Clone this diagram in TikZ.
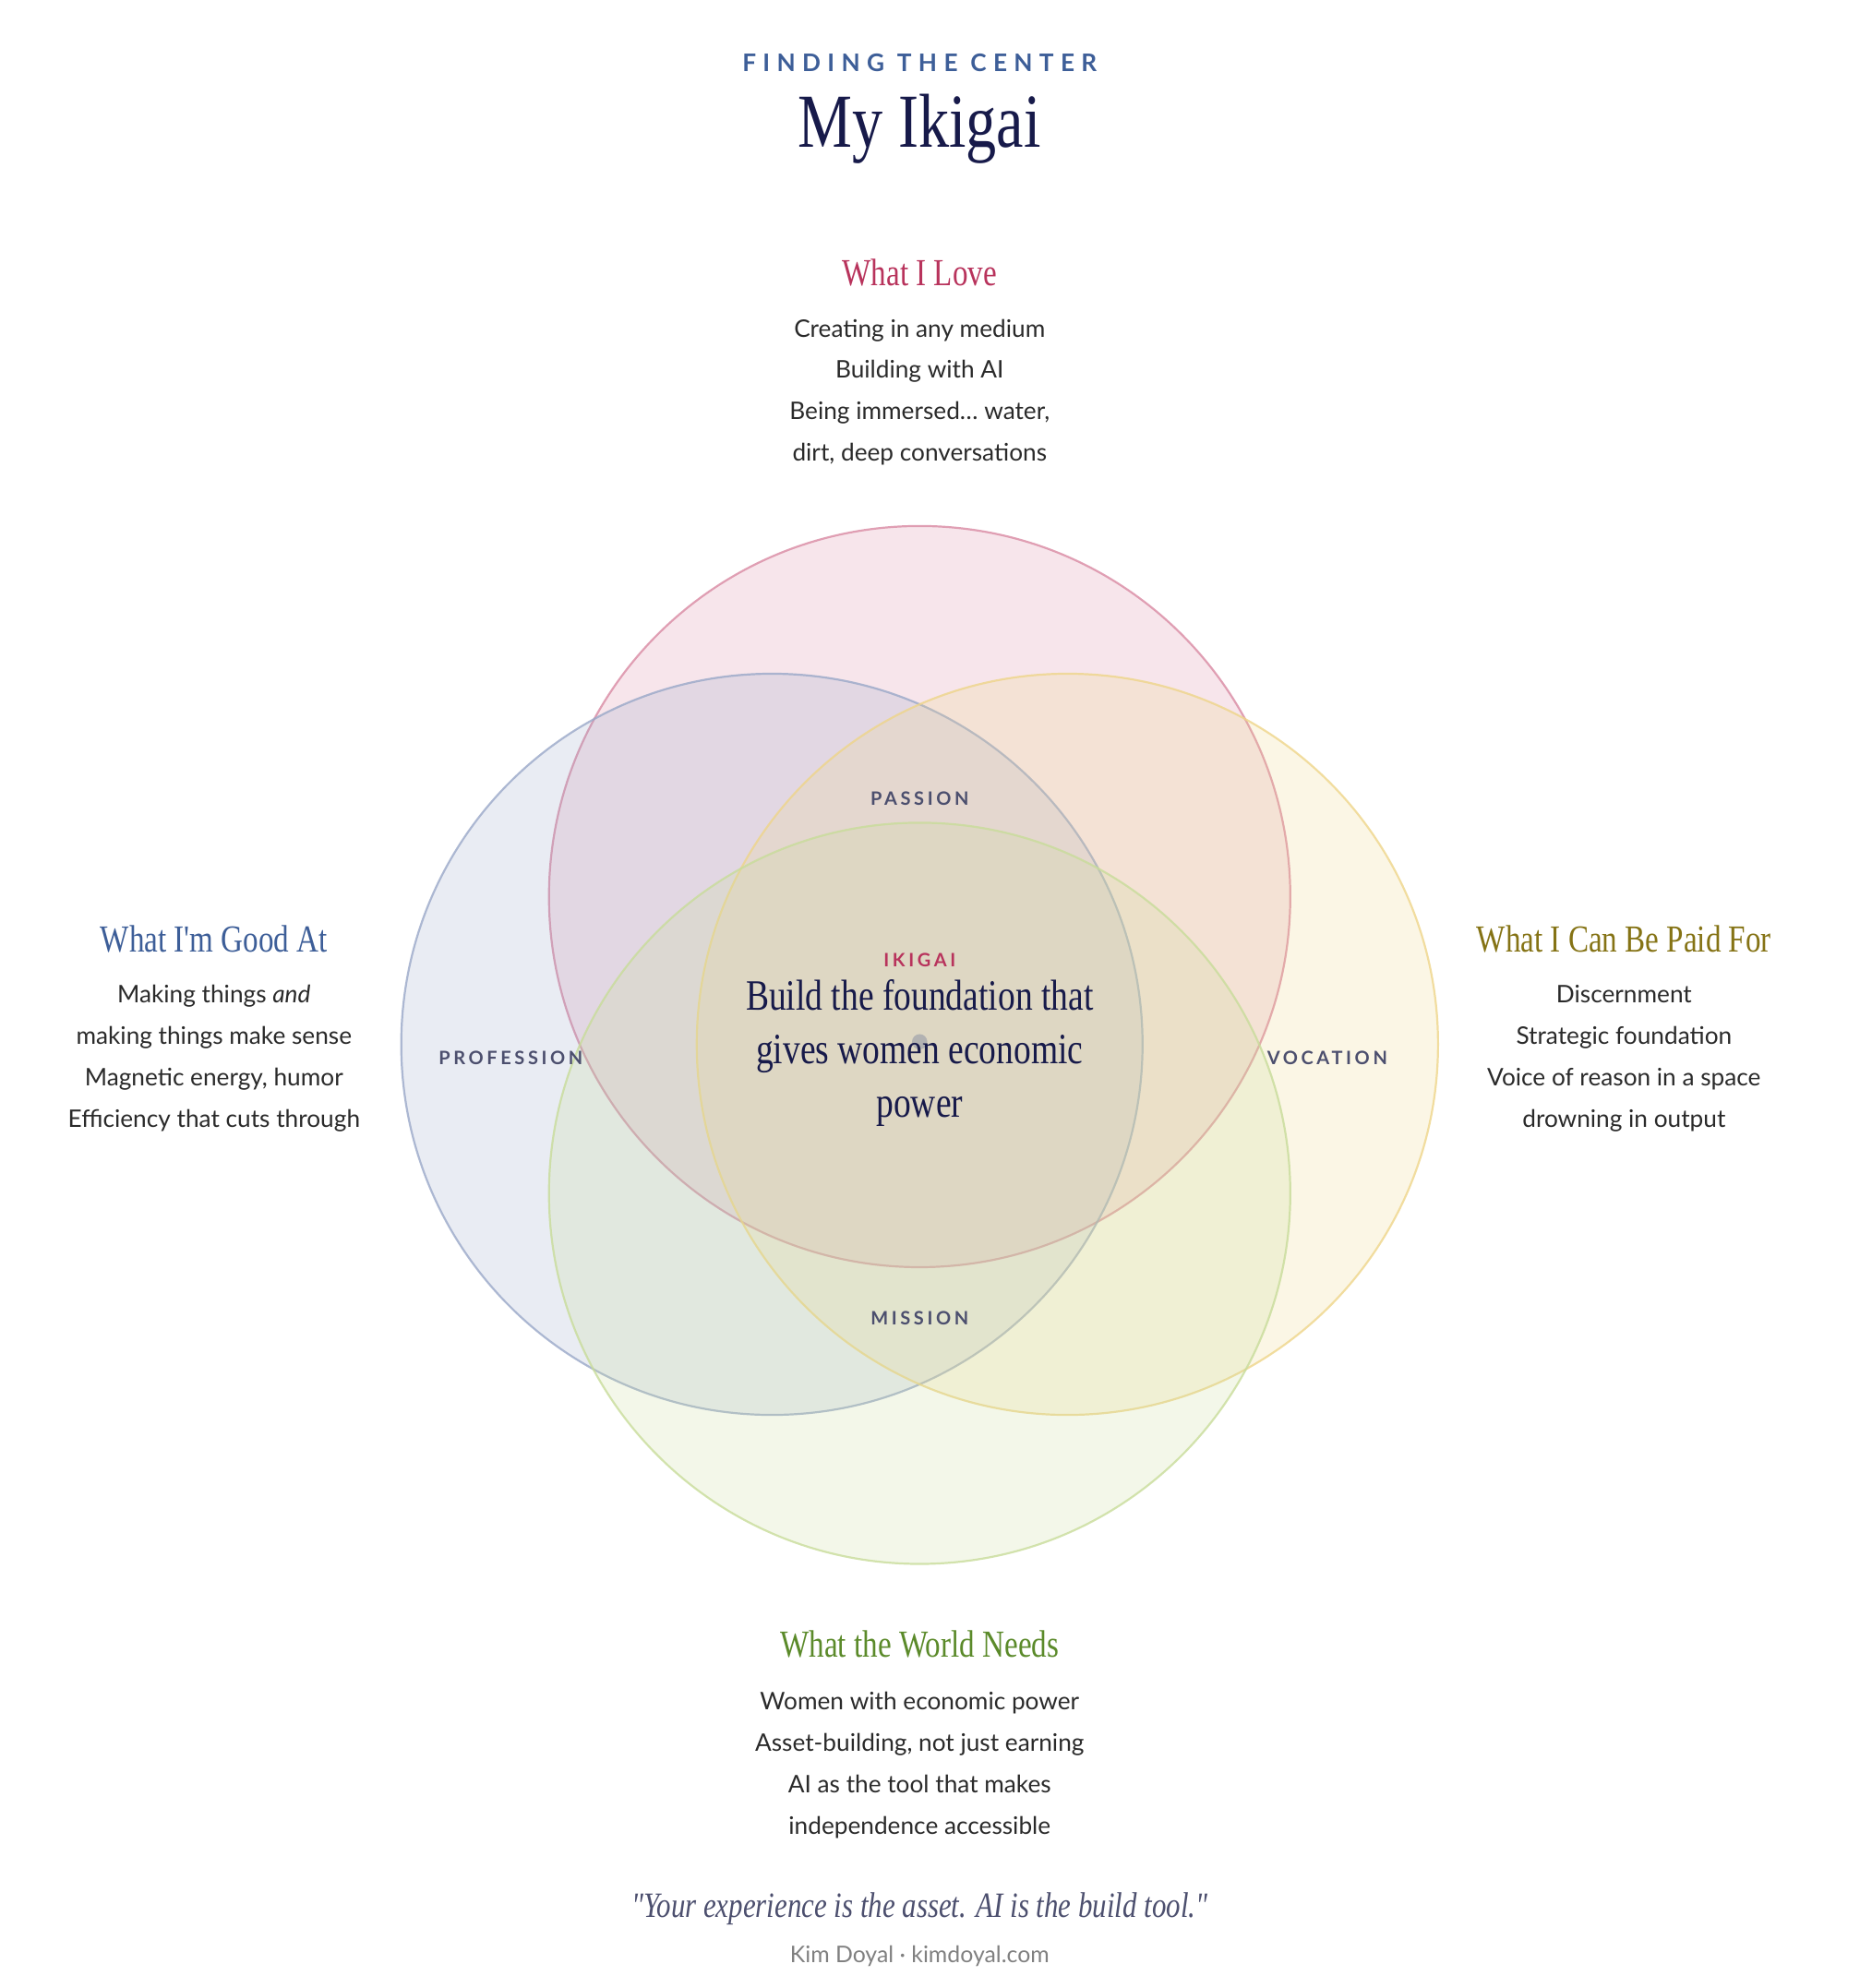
\documentclass[tikz,border=0pt]{standalone}
\usepackage{fontspec}
\setmainfont{Lato}
\newfontfamily\serifc[FakeStretch=0.8]{Liberation Serif}
\newfontfamily\serifci[FakeStretch=0.8]{Liberation Serif Italic}
\newfontfamily\spaced[LetterSpace=18]{Lato Bold}
\newfontfamily\spacedw[LetterSpace=28]{Lato Bold}
\definecolor{navy}{HTML}{171A4A}
\definecolor{rose}{HTML}{B8335C}
\definecolor{bluet}{HTML}{3D5E98}
\definecolor{olive}{HTML}{857315}
\definecolor{greent}{HTML}{5B8A2A}
\definecolor{body}{HTML}{2A2A2A}
\definecolor{lab}{HTML}{4C4F6E}
\definecolor{cpink}{HTML}{D98AA3}
\definecolor{cblue}{HTML}{9AA8C8}
\definecolor{cyel}{HTML}{EED58A}
\definecolor{cgreen}{HTML}{C8DC9A}
\begin{document}
\begin{tikzpicture}[x=1pt,y=-1pt,
 head/.style={font=\serifc\fontsize{30}{34}\selectfont},
 txt/.style={font=\fontsize{19}{32.5}\selectfont,text=body,align=center},
 lbl/.style={font=\spaced\fontsize{14.5}{16}\selectfont,text=lab},
 circ/.style={line width=1.6pt,fill opacity=0.22,draw opacity=0.8}]
\useasboundingbox (0,0) rectangle (1460,1561);
\draw[circ,draw=cpink,fill=cpink] (722,704) circle (291);
\draw[circ,draw=cblue,fill=cblue] (606,820) circle (291);
\draw[circ,draw=cyel,fill=cyel] (838,820) circle (291);
\draw[circ,draw=cgreen,fill=cgreen] (722,937) circle (291);
\fill[gray!60] (722,818) circle (6);
\node[font=\spacedw\fontsize{19}{20}\selectfont,text=bluet] (kick) at (722,49) {FINDING THE CENTER};
\node[font=\serifc\fontsize{60}{64}\selectfont,text=navy] (title) at (722,101) {My Ikigai};
\node[head,text=rose] (love) at (722,214) {What I Love};
\node[txt] (lovet) at (722,308) {Creating in any medium\\Building with AI\\Being immersed… water,\\dirt, deep conversations};
\node[head,text=bluet] (good) at (168,737) {What I'm Good At};
\node[txt] (goodt) at (168,831) {Making things \textit{and}\\making things make sense\\Magnetic energy, humor\\Efficiency that cuts through};
\node[head,text=olive] (paid) at (1275,737) {What I Can Be Paid For};
\node[txt] (paidt) at (1275,831) {Discernment\\Strategic foundation\\Voice of reason in a space\\drowning in output};
\node[head,text=greent] (world) at (722,1291) {What the World Needs};
\node[txt] (worldt) at (722,1386) {Women with economic power\\Asset-building, not just earning\\AI as the tool that makes\\independence accessible};
\node[lbl] (passion) at (722,627) {PASSION};
\node[lbl] (prof) at (401,831) {PROFESSION};
\node[lbl] (voc) at (1042,831) {VOCATION};
\node[lbl] (miss) at (722,1035) {MISSION};
\node[lbl,text=rose] (iki) at (722,754) {IKIGAI};
\node[font=\serifc\fontsize{34}{42}\selectfont,text=navy,align=center] (center) at (722,827) {Build the foundation that\\gives women economic\\power};
\node[font=\serifci\fontsize{28}{30}\selectfont,text=lab] (quote) at (722,1499) {"Your experience is the asset. AI is the build tool."};
\node[font=\fontsize{18}{20}\selectfont,text=gray] (by) at (722,1536) {Kim Doyal · kimdoyal.com};
\end{tikzpicture}
\end{document}
